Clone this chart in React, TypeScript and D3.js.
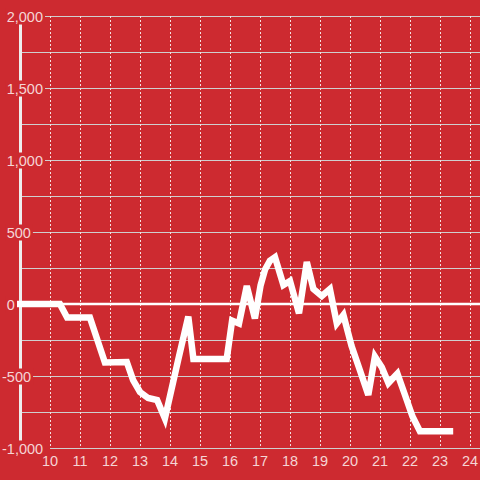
import React, { useRef, useEffect } from 'react';
import { select, scaleLinear, line, range, format } from 'd3';

// hours of the day (decimal) and the running total at each time
const hours = [
  8.9, 10.33, 10.57, 11.33, 11.83, 12.56, 12.77, 13.0, 13.27, 13.57, 13.83,
  14.27, 14.61, 14.78, 15.89, 16.07, 16.3, 16.56, 16.83, 17.02, 17.17, 17.33,
  17.5, 17.78, 18.0, 18.3, 18.56, 18.78, 19.06, 19.33, 19.56, 19.78, 20.05,
  20.33, 20.61, 20.83, 21.06, 21.28, 21.58, 21.83, 22.08, 22.33, 23.44,
];
const totals = [
  0, 0, -94, -94, -406, -403, -528, -611, -653, -667, -795, -390, -87, -382,
  -382, -115, -135, 125, -100, 130, 240, 300, 325, 132, 160, -65, 292, 104, 56,
  104, -135, -76, -290, -460, -632, -365, -440, -549, -483, -630, -780, -883,
  -883,
];
const hourTicks = range(10, 25);
const valueTicks = [-1000, -500, 0, 500, 1000, 1500, 2000];
const minorTicks = range(-1000, 2001, 250);

const RED = '#cd2a30';
const TEXT = '#f5d5d5';

const App = () => {
  const svgRef = useRef(null);

  useEffect(() => {
    const svg = select(svgRef.current);
    svg.selectAll('*').remove();

    const x = scaleLinear().domain([10, 24]).range([50, 470]);
    const y = scaleLinear().domain([-1000, 2000]).range([448, 16]);

    svg.append('rect').attr('width', 480).attr('height', 480).attr('fill', RED);

    // horizontal grid, every 250
    svg
      .append('g')
      .selectAll('line')
      .data(minorTicks)
      .join('line')
      .attr('x1', (d) => (d === -1000 ? x(10) : 22))
      .attr('x2', 480)
      .attr('y1', (d) => Math.round(y(d)) + 0.5)
      .attr('y2', (d) => Math.round(y(d)) + 0.5)
      .attr('stroke', '#cfcfcf')
      .attr('stroke-width', 1);

    // dotted hour lines
    svg
      .append('g')
      .selectAll('line')
      .data(hourTicks)
      .join('line')
      .attr('x1', (d) => Math.round(x(d)) + 0.5)
      .attr('x2', (d) => Math.round(x(d)) + 0.5)
      .attr('y1', y(2000))
      .attr('y2', y(-1000))
      .attr('stroke', '#f4e0e0')
      .attr('stroke-dasharray', '2,2');

    // y axis bar
    svg
      .append('line')
      .attr('x1', 20.5)
      .attr('x2', 20.5)
      .attr('y1', y(2000))
      .attr('y2', y(-1000))
      .attr('stroke', '#eeeeee')
      .attr('stroke-width', 3);

    // y labels with a red backing box
    const yLabels = svg
      .append('g')
      .attr('font-family', '"Liberation Sans", Arial, sans-serif')
      .attr('font-size', 14.5)
      .selectAll('g')
      .data(valueTicks)
      .join('g');

    const fmt = format(',');
    yLabels
      .append('text')
      .attr('x', (d) => (d < 0 ? 2 : 6.7))
      .attr('y', (d) => y(d) + 5.5)
      .attr('fill', TEXT)
      .text((d) => fmt(d).replace('−', '-'));

    yLabels.each(function () {
      const g = select(this);
      const box = (g.select('text').node() as SVGTextElement).getBBox();
      g.insert('rect', 'text')
        .attr('x', box.x - 1)
        .attr('y', box.y)
        .attr('width', box.width + 3)
        .attr('height', box.height)
        .attr('fill', RED);
    });

    // x labels
    svg
      .append('g')
      .attr('font-family', '"Liberation Sans", Arial, sans-serif')
      .attr('font-size', 14.5)
      .attr('text-anchor', 'middle')
      .selectAll('text')
      .data(hourTicks)
      .join('text')
      .attr('x', (d) => x(d))
      .attr('y', 466)
      .attr('fill', TEXT)
      .text((d) => d);

    // zero line
    svg
      .append('line')
      .attr('x1', 17)
      .attr('x2', 480)
      .attr('y1', y(0))
      .attr('y2', y(0))
      .attr('stroke', '#ffffff')
      .attr('stroke-width', 2.5);

    // data line
    const path = line<number>()
      .x((d, i) => x(hours[i]))
      .y((d) => y(d));

    svg
      .append('path')
      .datum(totals)
      .attr('d', path)
      .attr('fill', 'none')
      .attr('stroke', '#ffffff')
      .attr('stroke-width', 6.5);
  }, []);

  return (
    <svg
      ref={svgRef}
      width={480}
      height={480}
      style={{ position: 'absolute', left: 0, top: 0 }}
    />
  );
};

export default App;
